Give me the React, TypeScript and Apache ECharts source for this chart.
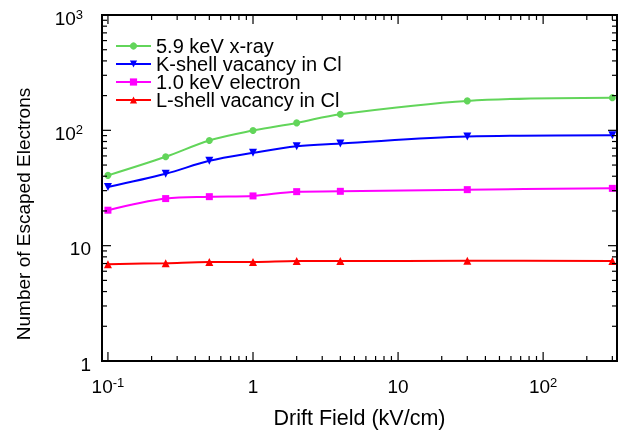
import React, { useEffect, useRef } from 'react';
import * as echarts from 'echarts';

// ---- data ----
const driftField = [0.1, 0.25, 0.5, 1, 2, 4, 30, 300];
const xray59 = [40.7, 59.0, 81.7, 99.6, 116, 138, 180, 192];
const kShellCl = [32.3, 42.0, 54.4, 63.8, 72.9, 76.9, 88.3, 90.8];
const electron10 = [20.3, 25.6, 26.6, 27.0, 29.4, 29.6, 30.6, 31.4];
const lShellCl = [6.9, 7.05, 7.2, 7.2, 7.35, 7.35, 7.4, 7.35];

const seriesNames = ['5.9 keV x-ray', 'K-shell vacancy in Cl', '1.0 keV electron', 'L-shell vacancy in Cl'];
const seriesColors = ['#62d55a', '#0000ff', '#ff00ff', '#ff0000'];

// ---- axes ----
const xRange = [0.091, 323];
const yRange = [1, 1000];
const xMajorTicks = [0.1, 1, 10, 100];
const xTickLabels = ['10^-1', '1', '10', '10^2'];
const yMajorTicks = [1, 10, 100, 1000];
const yTickLabels = ['1', '10', '10^2', '10^3'];
const minorMultipliers = [2, 3, 4, 5, 6, 7, 8, 9];

const FONT = 'Liberation Sans, Arial, Helvetica, sans-serif';

function findLabel(v: number, ticks: number[], labels: string[]): string | null {
  for (let i = 0; i < ticks.length; i++) {
    if (Math.abs(Math.log10(v) - Math.log10(ticks[i])) < 0.01) return labels[i];
  }
  return null;
}

function richLabel(lbl: string | null, supStyle: string): string {
  if (!lbl) return '';
  const p = lbl.indexOf('^');
  if (p < 0) return `{b|${lbl}}`;
  return `{b|${lbl.slice(0, p)}}{${supStyle}|${lbl.slice(p + 1)}}`;
}

function buildTicks() {
  const out: number[][] = [];
  // kind: 0 x major, 1 x minor, 2 y major, 3 y minor
  xMajorTicks.forEach((d) => {
    out.push([d, 1, 0]);
    minorMultipliers.forEach((m) => {
      const v = d * m;
      if (v > xRange[0] && v < xRange[1]) out.push([v, 1, 1]);
    });
  });
  yMajorTicks.forEach((d) => {
    out.push([1, d, 2]);
    minorMultipliers.forEach((m) => {
      const v = d * m;
      if (v > yRange[0] && v < yRange[1]) out.push([1, v, 3]);
    });
  });
  return out;
}

export default function App() {
  const ref = useRef<HTMLDivElement>(null);
  useEffect(() => {
    if (!ref.current) return;
    const chart = echarts.init(ref.current, undefined, { renderer: 'svg' });
    const dataSets = [xray59, kShellCl, electron10, lShellCl];
    const symbols = ['circle', 'triangle', 'rect', 'triangle'];
    const rotates = [0, 180, 0, 0];
    const sizes = [7, 8, 7, 8];

    const lineSeries = dataSets.map((arr, i) => ({
      type: 'line',
      name: seriesNames[i],
      data: driftField.map((x, j) => [x, arr[j]]),
      smooth: 0.35,
      symbol: symbols[i],
      symbolRotate: rotates[i],
      symbolSize: sizes[i],
      showSymbol: true,
      lineStyle: { color: seriesColors[i], width: 2 },
      itemStyle: { color: seriesColors[i] },
      z: 3,
    }));

    const tickSeries = {
      type: 'custom',
      name: 'ticks',
      data: buildTicks(),
      clip: false,
      silent: true,
      z: 5,
      renderItem: (params: any, api: any) => {
        const cs = params.coordSys;
        const kind = api.value(2);
        const style = { stroke: '#000', lineWidth: 1.2 };
        if (kind === 0 || kind === 1) {
          const len = kind === 0 ? 9 : 5;
          const px = api.coord([api.value(0), api.value(1)])[0];
          const yb = cs.y + cs.height;
          return {
            type: 'group',
            children: [
              { type: 'line', shape: { x1: px, y1: yb, x2: px, y2: yb - len }, style },
              { type: 'line', shape: { x1: px, y1: cs.y, x2: px, y2: cs.y + len }, style },
            ],
          };
        }
        const len = kind === 2 ? 9 : 5;
        const py = api.coord([api.value(0), api.value(1)])[1];
        const xr = cs.x + cs.width;
        return {
          type: 'group',
          children: [
            { type: 'line', shape: { x1: cs.x, y1: py, x2: cs.x + len, y2: py }, style },
            { type: 'line', shape: { x1: xr, y1: py, x2: xr - len, y2: py }, style },
          ],
        };
      },
    };

    const baseRich = {
      b: { fontSize: 19, lineHeight: 20, verticalAlign: 'bottom', color: '#000', fontFamily: FONT },
      s: { fontSize: 13, lineHeight: 6, verticalAlign: 'top', color: '#000', fontFamily: FONT },
      sy: { fontSize: 13, lineHeight: 6, verticalAlign: 'top', color: '#000', fontFamily: FONT, padding: [0, 8, 0, 0] },
    };

    chart.setOption({
      animation: false,
      textStyle: { fontFamily: FONT },
      grid: {
        left: 102,
        top: 15,
        width: 515,
        height: 352,
        show: true,
        borderColor: '#000',
        borderWidth: 2,
        backgroundColor: 'transparent',
      },
      legend: {
        data: seriesNames,
        orient: 'vertical',
        left: 115,
        top: 36,
        padding: 0,
        itemWidth: 35,
        itemHeight: 9,
        itemGap: -2,
        textStyle: { fontSize: 20, color: '#000', fontFamily: FONT },
      },
      xAxis: {
        type: 'log',
        logBase: 10,
        min: xRange[0],
        max: xRange[1],
        axisLine: { show: false },
        axisTick: { show: false },
        splitLine: { show: false },
        minorTick: { show: false },
        axisLabel: {
          margin: 15,
          showMinLabel: false,
          showMaxLabel: false,
          formatter: (v: number) => richLabel(findLabel(v, xMajorTicks, xTickLabels), 's'),
          rich: baseRich,
        },
        name: 'Drift Field (kV/cm)',
        nameLocation: 'middle',
        nameGap: 46,
        nameTextStyle: { fontSize: 21.5, color: '#000', fontFamily: FONT },
      },
      yAxis: {
        type: 'log',
        logBase: 10,
        min: yRange[0],
        max: yRange[1],
        axisLine: { show: false },
        axisTick: { show: false },
        splitLine: { show: false },
        minorTick: { show: false },
        axisLabel: {
          margin: 11,
          padding: [5, 0, 0, 0],
          formatter: (v: number) => richLabel(findLabel(v, yMajorTicks, yTickLabels), 'sy'),
          rich: baseRich,
        },
      },
      graphic: [
        {
          type: 'text',
          x: 23,
          y: 214,
          rotation: Math.PI / 2,
          style: {
            text: 'Number of Escaped Electrons',
            fontSize: 19,
            fontFamily: FONT,
            fill: '#000',
            align: 'center',
            verticalAlign: 'middle',
          },
        },
      ],
      series: [...lineSeries, tickSeries],
    });
    return () => chart.dispose();
  }, []);
  return <div ref={ref} style={{ position: 'fixed', left: 0, top: 0, width: 619, height: 434 }} />;
}
